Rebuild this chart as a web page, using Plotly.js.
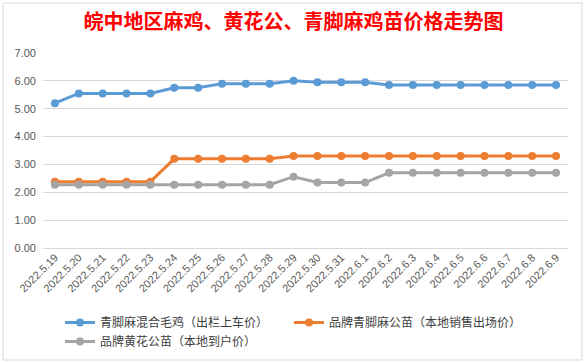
<!DOCTYPE html>
<html>
<head>
<meta charset="utf-8">
<script src="https://cdn.plot.ly/plotly-3.0.1.min.js"></script>
<style>html,body{margin:0;padding:0;background:#fff;}#chart{width:587px;height:363px;}</style>
</head>
<body>
<div id="chart"></div>
<script>
var dates = ["2022.5.19","2022.5.20","2022.5.21","2022.5.22","2022.5.23","2022.5.24","2022.5.25","2022.5.26","2022.5.27","2022.5.28","2022.5.29","2022.5.30","2022.5.31","2022.6.1","2022.6.2","2022.6.3","2022.6.4","2022.6.5","2022.6.6","2022.6.7","2022.6.8","2022.6.9"];
var mixedChicken = [5.2,5.55,5.55,5.55,5.55,5.75,5.75,5.9,5.9,5.9,6.0,5.95,5.95,5.95,5.85,5.85,5.85,5.85,5.85,5.85,5.85,5.85];
var qingjiaoRooster = [2.38,2.38,2.38,2.38,2.38,3.2,3.2,3.2,3.2,3.2,3.3,3.3,3.3,3.3,3.3,3.3,3.3,3.3,3.3,3.3,3.3,3.3];
var huanghuaRooster = [2.27,2.27,2.27,2.27,2.27,2.27,2.27,2.27,2.27,2.27,2.56,2.35,2.35,2.35,2.7,2.7,2.7,2.7,2.7,2.7,2.7,2.7];
var names = ["青脚麻混合毛鸡（出栏上车价）","品牌青脚麻公苗（本地销售出场价）","品牌黄花公苗（本地到户价）"];
var colors = ["#5b9bd5","#ed7d31","#a5a5a5"];
var series = [mixedChicken, qingjiaoRooster, huanghuaRooster];

var traces = series.map(function(s,i){
  return {x: dates, y: s, name: names[i], type: 'scatter', mode: 'lines+markers',
    line: {color: colors[i], width: 3}, marker: {color: colors[i], size: 8}};
});

var layout = {
  width: 587, height: 363,
  margin: {l: 43, r: 19, t: 53, b: 115},
  paper_bgcolor: '#ffffff', plot_bgcolor: '#ffffff',
  font: {family: "'Noto Sans CJK SC', 'Liberation Sans', sans-serif", color: '#595959'},
  title: {text: '皖中地区麻鸡、黄花公、青脚麻鸡苗价格走势图', font: {size: 20, color: '#ff0000', family: "'Noto Sans CJK SC', sans-serif", weight: 'bold'}, x: 0.5, xanchor: 'center', y: 0.94, yanchor: 'middle'},
  xaxis: {type: 'category', range: [-0.5, dates.length - 0.5], tickangle: -45, showgrid: false, zeroline: false, showline: false, ticks: '',
    tickfont: {size: 11, color: '#595959', family: "'Liberation Sans', sans-serif"}},
  yaxis: {range: [0, 7], dtick: 1, tickformat: '.2f', gridcolor: '#d9d9d9', gridwidth: 1, zeroline: true, zerolinecolor: '#d9d9d9', zerolinewidth: 1, showline: false, ticks: '',
    tickfont: {size: 11, color: '#595959', family: "'Liberation Sans', sans-serif"}, ticklabelstandoff: 6},
  showlegend: true,
  legend: {orientation: 'h', xref: 'container', yref: 'container', x: 60/587, y: (363-308)/363, xanchor: 'left', yanchor: 'top',
    entrywidth: 184, entrywidthmode: 'pixels', font: {size: 12, color: '#404040'}, bgcolor: 'rgba(0,0,0,0)', tracegroupgap: 0},
  shapes: [{type: 'rect', xref: 'paper', yref: 'paper', x0: -40/525, x1: (582-43)/525, y0: -(360-248)/195, y1: (248-3)/195,
    line: {color: '#d9d9d9', width: 1}, fillcolor: 'rgba(0,0,0,0)', layer: 'below'}]
};
Plotly.newPlot('chart', traces, layout, {displayModeBar: false, staticPlot: true});
</script>
</body>
</html>
